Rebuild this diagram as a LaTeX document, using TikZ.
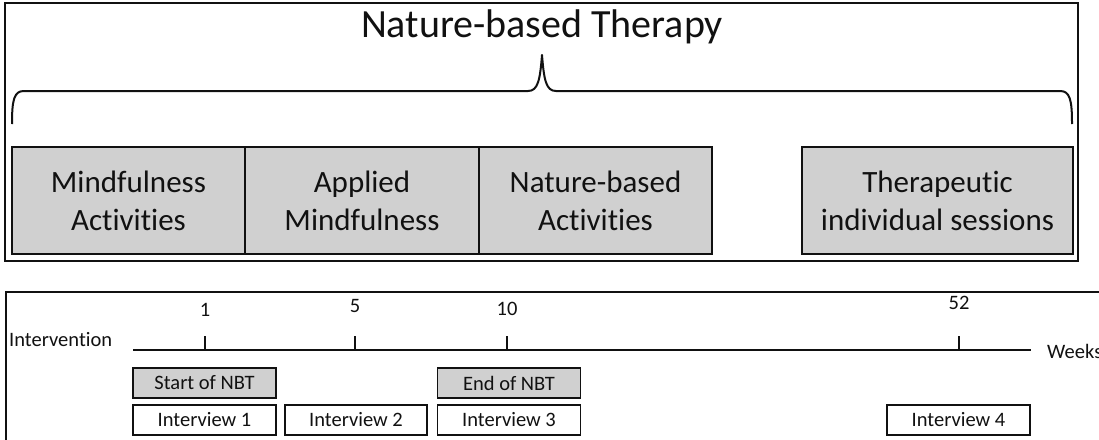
\documentclass[tikz,border=0pt]{standalone}
\usepackage{fontspec}
\setmainfont[RawFeature=-liga]{Carlito}
\definecolor{boxgray}{HTML}{D0D0D0}
\definecolor{ink}{HTML}{111111}
\tikzset{
  frame/.style={draw=ink, line width=1.6pt},
  bigbox/.style={draw=ink, line width=2pt, fill=boxgray, minimum height=107pt, inner sep=0pt,
    align=center, font=\fontsize{31}{38}\selectfont, text=ink},
  smallbox/.style={draw=ink, line width=1.6pt, minimum width=143pt, minimum height=30pt, inner sep=0pt,
    font=\fontsize{20.5}{22}\selectfont, text=ink},
  graybox/.style={smallbox, fill=boxgray},
  lbl/.style={font=\fontsize{20.5}{22}\selectfont, text=ink, inner sep=0pt},
  axis/.style={draw=ink, line width=1.6pt},
  bracepath/.style={draw=ink, line width=2pt, line join=round}
}
\begin{document}
\begin{tikzpicture}[x=1pt,y=-1pt]
\useasboundingbox (0,0) rectangle (1099,439);
\fill[white] (0,0) rectangle (1099,439);
\clip (0,0) rectangle (1099,439);
% top panel
\draw[frame] (5,3) rectangle (1078,261);
\node[text=ink, font=\fontsize{40}{46}\selectfont, inner sep=0pt] (title) at (542,27) {Nature-based Therapy};
\coordinate (bl) at (12,124);
\coordinate (br) at (1072,124);
\coordinate (tip) at (542,55);
\draw[bracepath] (bl) .. controls (12,100) and (14,91) .. (24,91) -- (528,91)
  .. controls (538,91) and (540,80) .. (tip) .. controls (544,80) and (546,91) .. (556,91)
  -- (1060,91) .. controls (1070,91) and (1072,100) .. (br);
\node[bigbox, minimum width=233pt] (b1) at (128.5,200.5) {Mindfulness\\Activities};
\node[bigbox, minimum width=234pt] (b2) at (362,200.5) {Applied\\Mindfulness};
\node[bigbox, minimum width=233pt] (b3) at (595.5,200.5) {Nature-based\\Activities};
\node[bigbox, minimum width=271pt] (b4) at (937.5,200.5) {Therapeutic\\individual sessions};
% bottom panel
\draw[frame] (6,292) rectangle (1120,470);
\node[lbl, anchor=west] (int) at (9,340) {Intervention};
\coordinate (a0) at (133,350);
\coordinate (a1) at (1031,350);
\draw[axis] (a0) -- (a1);
\node[lbl, anchor=west] (weeks) at (1047,351) {Weeks};
\foreach \n/\x/\ly in {1/205/310,5/355/306,10/507/309,52/959/303}{
  \coordinate (t\n) at (\x,350);
  \coordinate (u\n) at (\x,336);
  \draw[axis] (t\n) -- (u\n);
  \node[lbl] (l\n) at (\x,\ly) {\n};
}
\node[graybox] (s) at (204.5,383) {Start of NBT};
\node[graybox] (e) at (509,383) {End of NBT};
\node[smallbox] (i1) at (204.5,420) {Interview 1};
\node[smallbox, minimum width=142pt] (i2) at (356,420) {Interview 2};
\node[smallbox] (i3) at (509,420) {Interview 3};
\node[smallbox] (i4) at (958.5,420) {Interview 4};
\end{tikzpicture}
\end{document}
